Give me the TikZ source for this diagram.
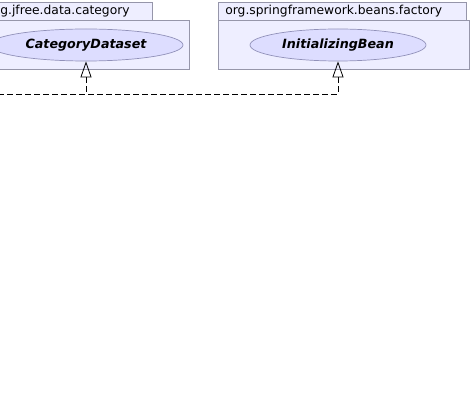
\documentclass[tikz,border=0pt]{standalone}
\usepackage{fontspec}
\setmainfont{DejaVu Sans}
\usetikzlibrary{shapes.geometric,arrows.meta}
\definecolor{pkgfill}{RGB}{238,238,255}
\definecolor{pkgline}{RGB}{150,150,170}
\definecolor{ifacefill}{RGB}{221,221,255}
\definecolor{ifaceline}{RGB}{145,145,185}

\begin{document}
\begin{tikzpicture}[x=1pt,y=-1pt,line width=0.7pt,
  pkgtab/.style={draw=pkgline,fill=pkgfill,anchor=north west,inner xsep=7pt,inner ysep=0pt,
    minimum height=18pt,align=left,font=\fontsize{12.3}{14}\selectfont},
  pkgbody/.style={draw=pkgline,fill=pkgfill,anchor=north west,inner sep=0pt},
  iface/.style={ellipse,draw=ifaceline,fill=ifacefill,inner sep=0pt,minimum height=32pt,
    font=\fontsize{12.7}{14}\selectfont\bfseries\itshape},
  realize/.style={draw=black,line width=0.8pt,dash pattern=on 6pt off 3pt,
    -{Triangle[open,width=11pt,length=16pt]}}]
\useasboundingbox (0,0) rectangle (471,406);
\clip (0,0) rectangle (471,406);

\node[pkgbody,minimum width=208pt,minimum height=49pt] (jfree) at (-19,20) {};
\node[pkgtab,text width=145pt] (jfreetab) at (-7,2) {g.jfree.data.category};
\node[iface,minimum width=194pt] (cd) at (86,45) {CategoryDataset};

\node[pkgbody,minimum width=251pt,minimum height=49pt] (spring) at (218,20) {};
\node[pkgtab,text width=234pt] (springtab) at (218,2) {org.springframework.beans.factory};
\node[iface,minimum width=176pt] (ib) at (338,45) {InitializingBean};

\coordinate (impl) at (-20,94);
\draw[realize] (impl) -| (ib.south);
\draw[realize] (impl) -| (cd.south);

\end{tikzpicture}
\end{document}
